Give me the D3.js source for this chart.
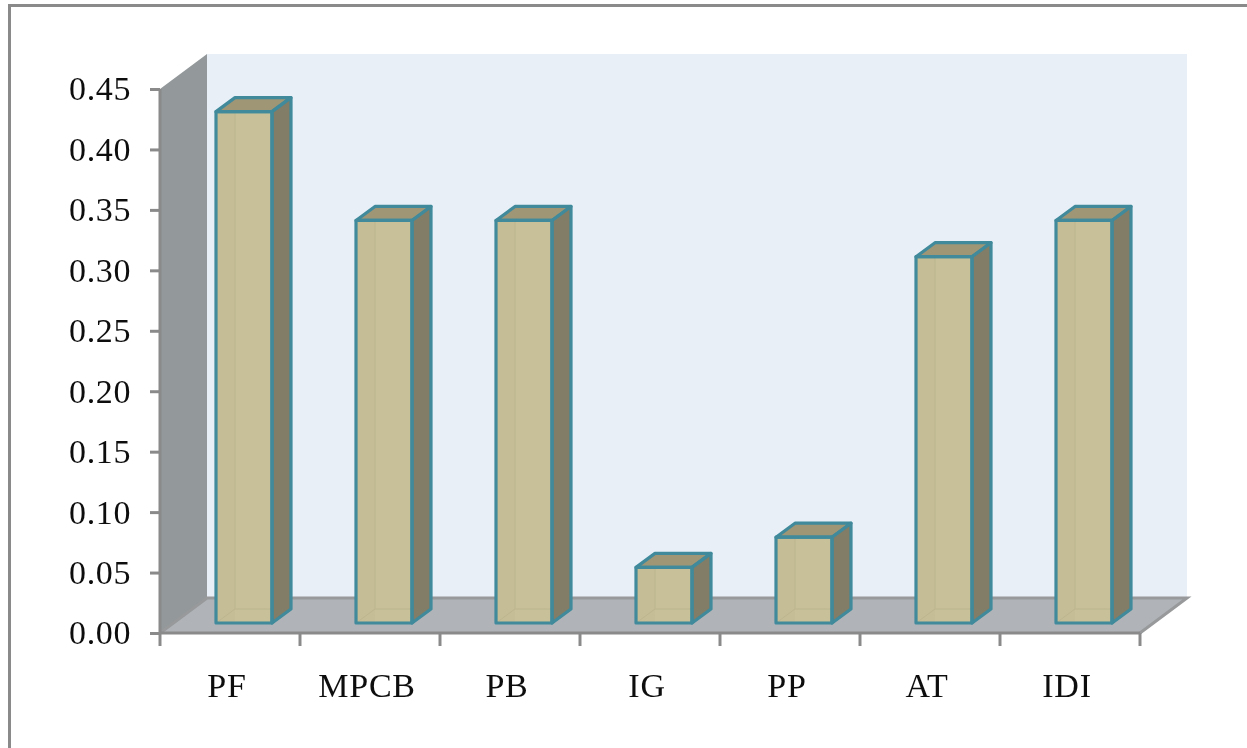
<!DOCTYPE html>
<html>
<head>
<meta charset="utf-8">
<script src="https://cdn.jsdelivr.net/npm/d3@7"></script>
<style>
html,body{margin:0;padding:0;background:#fff;overflow:hidden}
svg{display:block}
text{font-family:"Liberation Serif","Times New Roman",serif;fill:#111}
</style>
</head>
<body>
<svg id="c" width="1247" height="748"></svg>
<script>
const categories = ["PF","MPCB","PB","IG","PP","AT","IDI"];
const values = [0.423,0.333,0.333,0.046,0.071,0.303,0.333];
const yTicks = [0,0.05,0.10,0.15,0.20,0.25,0.30,0.35,0.40,0.45];

const svg = d3.select("#c");
const defs = svg.append("defs");
defs.append("filter").attr("id","soft").attr("x","-2%").attr("y","-2%").attr("width","104%").attr("height","104%")
  .append("feGaussianBlur").attr("stdDeviation",0.7);
const root = svg.append("g").attr("filter","url(#soft)");

// frame
root.append("path").attr("d","M9.5,748V5.5H1247").attr("fill","none").attr("stroke","#8a8a8a").attr("stroke-width",3);

const x = d3.scaleBand().domain(categories).range([160,1140]);
const y = d3.scaleLinear().domain([0,0.45]).range([633,89]);
const depth = {dx:47, dy:-35};
const bar = {inset:0.4, width:0.4, dx:19, dy:-14, lift:10};
const path = pts => "M" + pts.map(p=>p.join(",")).join("L") + "Z";

const x0=x.range()[0], x1=x.range()[1], yB=y(0), yT=y(0.45);
// walls
root.append("path").attr("fill","#e8eff7")
  .attr("d",path([[x0+depth.dx,yT+depth.dy],[x1+depth.dx,yT+depth.dy],[x1+depth.dx,yB+depth.dy],[x0+depth.dx,yB+depth.dy]]));
root.append("path").attr("fill","#93989a")
  .attr("d",path([[x0,yT],[x0+depth.dx,yT+depth.dy],[x0+depth.dx,yB+depth.dy],[x0,yB]]));
root.append("path").attr("fill","#b0b4b8")
  .attr("d",path([[x0,yB],[x0+depth.dx,yB+depth.dy],[x1+depth.dx,yB+depth.dy],[x1,yB]]));
root.append("path").attr("fill","none").attr("stroke","#97999b").attr("stroke-width",3)
  .attr("d",`M${x0},${yB}L${x0+depth.dx},${yB+depth.dy}H${x1+depth.dx}L${x1},${yB}`);

// bars
const g = root.selectAll("g.bar").data(categories.map((c,i)=>({c,v:values[i]}))).join("g").attr("class","bar");
g.each(function(d){
  const s = d3.select(this);
  const L = x(d.c)+x.bandwidth()*bar.inset, W = x.bandwidth()*bar.width, R = L+W;
  const B = y(0)-bar.lift, T = y(d.v)-bar.lift;
  const dx=bar.dx, dy=bar.dy;
  s.append("path").attr("fill","#c7c098").attr("d",path([[L,T],[R,T],[R,B],[L,B]]));
  s.append("rect").attr("x",L).attr("y",T).attr("width",dx).attr("height",B-T).attr("fill","#bdb68f").attr("opacity",0.3);
  s.append("path").attr("fill","none").attr("stroke","#bcb58f").attr("stroke-width",1)
    .attr("d",`M${L+dx},${T}V${B+dy}H${R}M${L+dx},${B+dy}L${L},${B}`);
  s.append("path").attr("fill","#9f9676").attr("stroke","#3f8a9c").attr("stroke-width",3.2).attr("stroke-linejoin","round")
    .attr("d",path([[L,T],[L+dx,T+dy],[R+dx,T+dy],[R,T]]));
  s.append("path").attr("fill","#827d66").attr("stroke","#3f8a9c").attr("stroke-width",3.2).attr("stroke-linejoin","round")
    .attr("d",path([[R,T],[R+dx,T+dy],[R+dx,B+dy],[R,B]]));
  s.append("path").attr("fill","none").attr("stroke","#3f8a9c").attr("stroke-width",3.2).attr("stroke-linejoin","round")
    .attr("d",path([[L,T],[R,T],[R,B],[L,B]]));
});

// y axis
const yAxis = root.append("g").attr("transform",`translate(${x0},0)`)
  .call(d3.axisLeft(y).tickValues(yTicks).tickFormat(d3.format(".2f")).tickSize(10).tickPadding(19));
yAxis.select(".domain").attr("stroke","#8a8a8a").attr("stroke-width",3).attr("d",`M0,${yT}V${yB}`);
yAxis.selectAll(".tick line").attr("stroke","#8a8a8a").attr("stroke-width",3);
yAxis.selectAll("text").attr("font-size",34).attr("font-family","Liberation Serif").attr("fill","#111")
  .attr("letter-spacing",0.6).attr("dy","0.32em");

// x axis
const xAxis = root.append("g").attr("transform",`translate(0,${yB})`)
  .call(d3.axisBottom(x).tickSize(0).tickPadding(40));
xAxis.select(".domain").attr("stroke","#8a8a8a").attr("stroke-width",3).attr("d",`M${x0},0H${x1}`);
xAxis.selectAll("text").attr("font-size",34).attr("font-family","Liberation Serif").attr("fill","#111")
  .attr("letter-spacing",0.8).attr("dx",-3).attr("dy","0.71em");
xAxis.selectAll("line.sep").data(categories.map(c=>x(c)).concat([x1])).join("line").attr("class","sep")
  .attr("x1",d=>d).attr("x2",d=>d).attr("y1",0).attr("y2",13).attr("stroke","#8a8a8a").attr("stroke-width",3);
</script>
</body>
</html>
